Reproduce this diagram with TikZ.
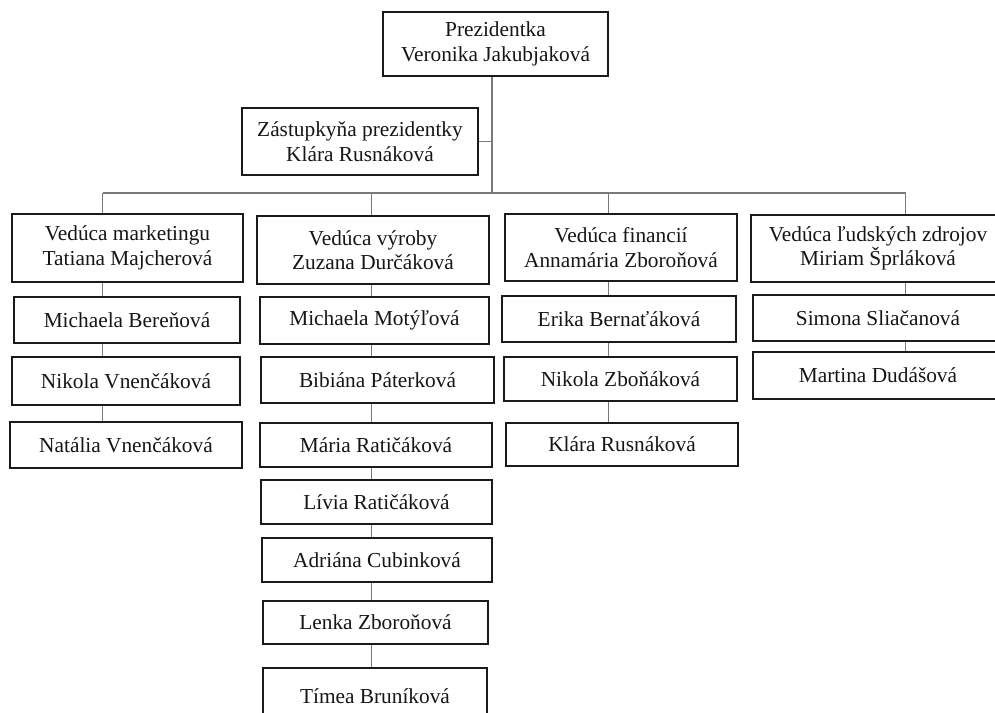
\documentclass[tikz,border=0pt]{standalone}
\usepackage{fontspec}
\setmainfont{Liberation Serif}
\definecolor{boxc}{HTML}{1A1A1A}
\definecolor{linec}{HTML}{7A7A7A}
\definecolor{txtc}{HTML}{161616}
\tikzset{
  box/.style={draw=boxc, line width=1.4pt, fill=white, inner sep=0pt, align=center,
    font=\fontsize{16}{18.3}\selectfont, text=txtc},
  conn/.style={draw=linec, line width=0.8pt}
}
\begin{document}
\begin{tikzpicture}[x=0.75pt,y=-0.75pt]
\useasboundingbox (0,0) rectangle (995,713);
\clip (0,0) rectangle (995,713);
\fill[white] (0,0) rectangle (995,713);

% top
\node[box,minimum width=168.75pt,minimum height=48pt] (pres) at (495.5,44) {Prezidentka\\Veronika Jakubjaková};
\node[box,minimum width=177pt,minimum height=50.25pt] (zast) at (360,141.5) {Zástupkyňa prezidentky\\Klára Rusnáková};

% column 1
\node[box,minimum width=173.25pt,minimum height=51pt] (h1) at (127.5,248) {Vedúca marketingu\\Tatiana Majcherová};
\node[box,minimum width=169.5pt,minimum height=34.5pt] (a1) at (127,320) {Michaela Bereňová};
\node[box,minimum width=171pt,minimum height=36pt] (a2) at (126,381) {Nikola Vnenčáková};
\node[box,minimum width=174pt,minimum height=34.5pt] (a3) at (126,445) {Natália Vnenčáková};

% column 2
\node[box,minimum width=174pt,minimum height=51pt] (h2) at (373,250) {Vedúca výroby\\Zuzana Durčáková};
\node[box,minimum width=171.75pt,minimum height=35.25pt] (b1) at (374.5,320.5) {Michaela Motýľová};
\node[box,minimum width=174.75pt,minimum height=34.5pt] (b2) at (377.5,380) {Bibiána Páterková};
\node[box,minimum width=174pt,minimum height=33pt] (b3) at (376,445) {Mária Ratičáková};
\node[box,minimum width=173.25pt,minimum height=33pt] (b4) at (376.5,502) {Lívia Ratičáková};
\node[box,minimum width=172.5pt,minimum height=33pt] (b5) at (377,560) {Adriána Cubinková};
\node[box,minimum width=168.75pt,minimum height=32.25pt] (b6) at (375.5,622.5) {Lenka Zboroňová};
\node[box,minimum width=168pt,minimum height=42pt] (b7) at (375,696) {Tímea Bruníková};

% column 3
\node[box,minimum width=174pt,minimum height=50.25pt] (h3) at (621,247.5) {Vedúca financií\\Annamária Zboroňová};
\node[box,minimum width=175.5pt,minimum height=34.5pt] (f1) at (619,319) {Erika Bernaťáková};
\node[box,minimum width=174.75pt,minimum height=33pt] (f2) at (620.5,379) {Nikola Zboňáková};
\node[box,minimum width=174pt,minimum height=32.25pt] (f3) at (622,444.5) {Klára Rusnáková};

% column 4
\node[box,minimum width=190.5pt,minimum height=50.25pt] (h4) at (878,248.5) {Vedúca ľudských zdrojov\\Miriam Šprláková};
\node[box,minimum width=187.5pt,minimum height=34.5pt] (s1) at (878,318) {Simona Sliačanová};
\node[box,minimum width=187.5pt,minimum height=35.25pt] (s2) at (878,375.5) {Martina Dudášová};

% connector coordinates
\coordinate (trunk) at (492,193);
\coordinate (c1) at (102.5,193);
\coordinate (c2) at (371.5,193);
\coordinate (c3) at (608.5,193);
\coordinate (c4) at (905.5,193);

% trunk and bus
\draw[conn] (pres.south -| trunk) -- (trunk);
\draw[conn] (zast.east) -- (zast.east -| trunk);
\draw[conn] (c1) -- (c4);
\draw[conn] (c1) -- (h1.north -| c1);
\draw[conn] (c2) -- (h2.north -| c2);
\draw[conn] (c3) -- (h3.north -| c3);
\draw[conn] (c4) -- (h4.north -| c4);

% column 1
\draw[conn] (h1.south -| c1) -- (a1.north -| c1);
\draw[conn] (a1.south -| c1) -- (a2.north -| c1);
\draw[conn] (a2.south -| c1) -- (a3.north -| c1);

% column 2
\draw[conn] (h2.south -| c2) -- (b1.north -| c2);
\draw[conn] (b1.south -| c2) -- (b2.north -| c2);
\draw[conn] (b2.south -| c2) -- (b3.north -| c2);
\draw[conn] (b3.south -| c2) -- (b4.north -| c2);
\draw[conn] (b4.south -| c2) -- (b5.north -| c2);
\draw[conn] (b5.south -| c2) -- (b6.north -| c2);
\draw[conn] (b6.south -| c2) -- (b7.north -| c2);

% column 3
\draw[conn] (h3.south -| c3) -- (f1.north -| c3);
\draw[conn] (f1.south -| c3) -- (f2.north -| c3);
\draw[conn] (f2.south -| c3) -- (f3.north -| c3);

% column 4
\draw[conn] (h4.south -| c4) -- (s1.north -| c4);
\draw[conn] (s1.south -| c4) -- (s2.north -| c4);
\end{tikzpicture}
\end{document}
